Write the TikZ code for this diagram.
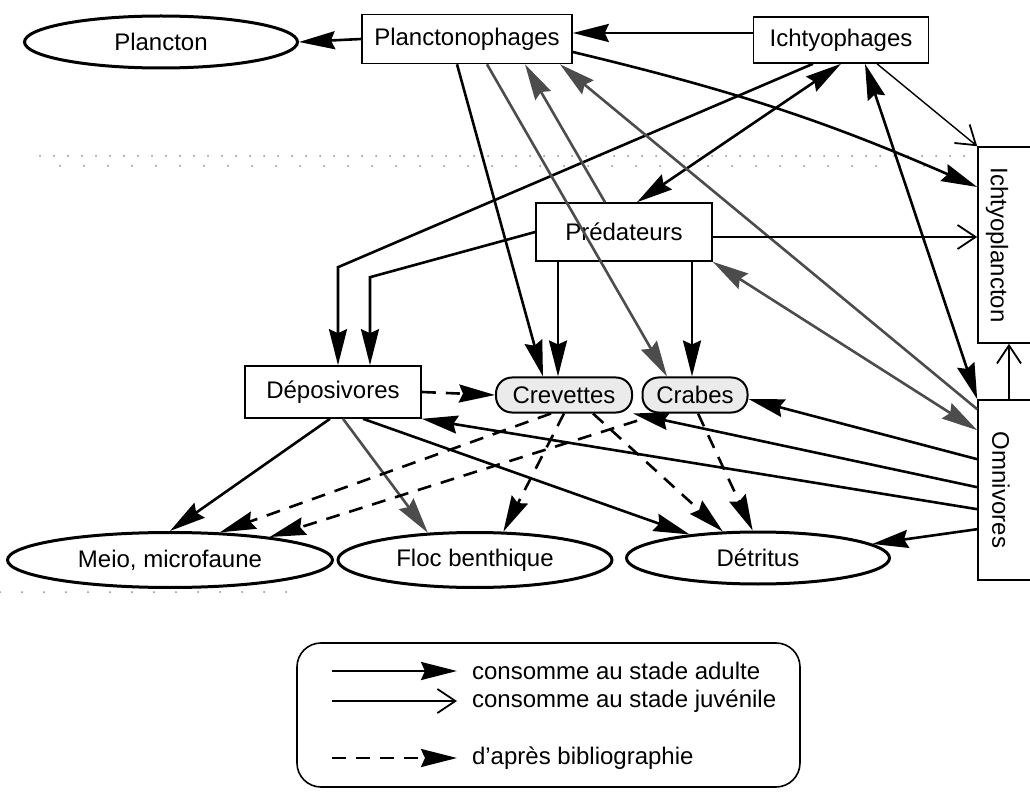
\documentclass[tikz,border=0pt]{standalone}
\usepackage{fontspec}
\setmainfont{Liberation Sans}
\usepackage{graphicx}
\usepackage{tikz}
\usetikzlibrary{shapes.geometric, arrows.meta, calc}

\begin{document}
\begin{tikzpicture}[
    x=0.5pt, y=-0.5pt,
    font=\fontsize{12}{14}\selectfont,
    box/.style={draw, line width=0.8pt, inner sep=0pt, text centered},
    food/.style={draw, ellipse, line width=1.5pt, inner sep=0pt},
    prey/.style={draw, rounded corners=8pt, line width=1pt, fill=black!8,
                 inner sep=0pt, minimum height=17.5pt},
    adult/.style={line width=1.3pt, -{Stealth[length=18pt,width=9pt,inset=2pt]}},
    both/.style={line width=1.3pt,
                 {Stealth[length=18pt,width=9pt,inset=2pt]}-{Stealth[length=18pt,width=9pt,inset=2pt]}},
    juv/.style={line width=0.7pt, -{Straight Barb[length=9pt,width=12pt,line width=0.9pt]}},
    biblio/.style={adult, dash pattern=on 7pt off 5pt},
    faded/.style={black!70},
]
\useasboundingbox (0,0) rectangle (1030,797);

% speckled lines of the scan
\draw[black!45, line width=1pt, line cap=round, dash pattern=on 0pt off 7pt] (40,156) -- (965,156);
\draw[black!45, line width=1pt, line cap=round, dash pattern=on 0pt off 12pt] (60,166) -- (950,166);
\draw[black!45, line width=1pt, line cap=round, dash pattern=on 0pt off 11pt] (0,592) -- (300,592);

% nodes
\node[food, minimum width=136.5pt, minimum height=26pt] (plancton) at (161,42) {Plancton};
\node[box, minimum width=105pt, minimum height=24.5pt] (planctono) at (467,39) {Planctonophages};
\node[box, minimum width=87.5pt, minimum height=23pt] (ichtyo) at (841,40) {Ichtyophages};
\node[box, minimum width=31pt, minimum height=98pt] (ichtyoplk) at (1009,245)
    {\rotatebox{-90}{Ichtyoplancton}\rule{12pt}{0pt}};
\node[box, minimum width=31pt, minimum height=90pt] (omni) at (1009,490)
    {\rotatebox{-90}{Omnivores}\rule{8pt}{0pt}};
\node[box, minimum width=88pt, minimum height=29pt] (preda) at (624,232) {Prédateurs};
\node[box, minimum width=88pt, minimum height=26pt] (depo) at (333,392) {Déposivores};
\node[prey, minimum width=68pt] (crev) at (564,395) {Crevettes};
\node[prey, minimum width=52.5pt] (crab) at (695,395) {Crabes};
\node[food, minimum width=162.5pt, minimum height=27.5pt] (meio) at (170,560) {Meio, microfaune};
\node[food, minimum width=137pt, minimum height=27.5pt] (floc) at (475,560) {Floc benthique};
\node[food, minimum width=131.5pt, minimum height=26pt] (detritus) at (758,558) {Détritus};

% top of the web
\draw[adult] (planctono.west) -- (plancton.east);
\draw[adult] ($(ichtyo.west)+(0,-7)$) -- ($(planctono.east)+(0,-6)$);
\draw[juv] ($(ichtyo.south)+(36,0)$) -- (ichtyoplk.north west);
\draw[adult] ($(planctono.east)+(0,13)$) to[bend left=5] ($(ichtyoplk.west)+(0,-58)$);
\draw[both] (ichtyo.south) -- ($(preda.north)+(13,0)$);
\draw[adult] ($(ichtyo.south)+(-28,0)$) -- ($(depo.north)+(5,-98)$) -- ($(depo.north)+(5,0)$);
\draw[both] ($(ichtyo.south)+(24,0)$) -- (omni.north west);
\draw[adult] ($(planctono.south)+(-10,0)$) -- ($(crev.north)+(-21,0)$);
\draw[adult, faded] ($(planctono.south)+(20,0)$) -- ($(crab.north)+(-28,0)$);
\draw[adult, faded] ($(preda.north)+(-19,0)$) -- ($(planctono.south)+(58,0)$);
\draw[adult, faded] ($(omni.north west)+(0,10)$) -- ($(planctono.south)+(93,0)$);

% predateurs
\draw[both, faded] (preda.south east) -- ($(omni.north west)+(0,31)$);
\draw[juv] ($(preda.east)+(0,5)$) -- ($(ichtyoplk.west)+(0,-8)$);
\draw[juv] (omni.north) -- (ichtyoplk.south);
\draw[adult] (preda.west) -- ($(depo.north)+(37,-88)$) -- ($(depo.north)+(37,0)$);
\draw[adult] ($(preda.south)+(-66,0)$) -- ($(crev.north)+(-6,0)$);
\draw[adult] ($(preda.south)+(68,0)$) -- ($(crab.north)+(-3,0)$);

% omnivores
\draw[adult] ($(omni.north west)+(0,60)$) -- ($(crab.east)+(0,4)$);
\draw[adult] ($(omni.north west)+(0,88)$) -- (crev.south east);
\draw[adult] ($(omni.north west)+(0,110)$) -- (depo.south east);
\draw[adult] ($(omni.north west)+(0,130)$) -- (detritus.7);

% bottom
\draw[biblio] (depo.east) -- (crev.west);
\draw[adult] ($(depo.south)+(-3,0)$) -- (meio.north);
\draw[adult, faded] ($(depo.south)+(10,0)$) -- (floc.150);
\draw[adult] ($(depo.south)+(30,0)$) -- (detritus.161);
\draw[biblio] ($(crev.south)+(-13,0)$) -- (meio.29);
\draw[biblio] ($(crab.south)+(-35,0)$) -- (meio.13);
\draw[biblio] (crev.south) -- (floc.45);
\draw[biblio] ($(crev.south)+(29,0)$) -- (detritus.143);
\draw[biblio] ($(crab.south)+(3,0)$) -- (detritus.101);

% legend
\node[draw, rounded corners=12pt, line width=0.8pt, minimum width=251.5pt,
      minimum height=72pt] (legend) at (548.5,715) {};
\node[anchor=west] (tadult) at (465,671) {consomme au stade adulte};
\node[anchor=west] (tjuv) at (465,701) {consomme au stade juvénile};
\node[anchor=west] (tbib) at (465,758) {d'après bibliographie};
\coordinate (ka) at (332,671);
\coordinate (kj) at (332,701);
\coordinate (kb) at (332,758);
\draw[adult] (ka) -- ($(tadult.west)+(-8,0)$);
\draw[juv] (kj) -- ($(tjuv.west)+(-8,0)$);
\draw[biblio] (kb) -- ($(tbib.west)+(-8,0)$);
\end{tikzpicture}
\end{document}
